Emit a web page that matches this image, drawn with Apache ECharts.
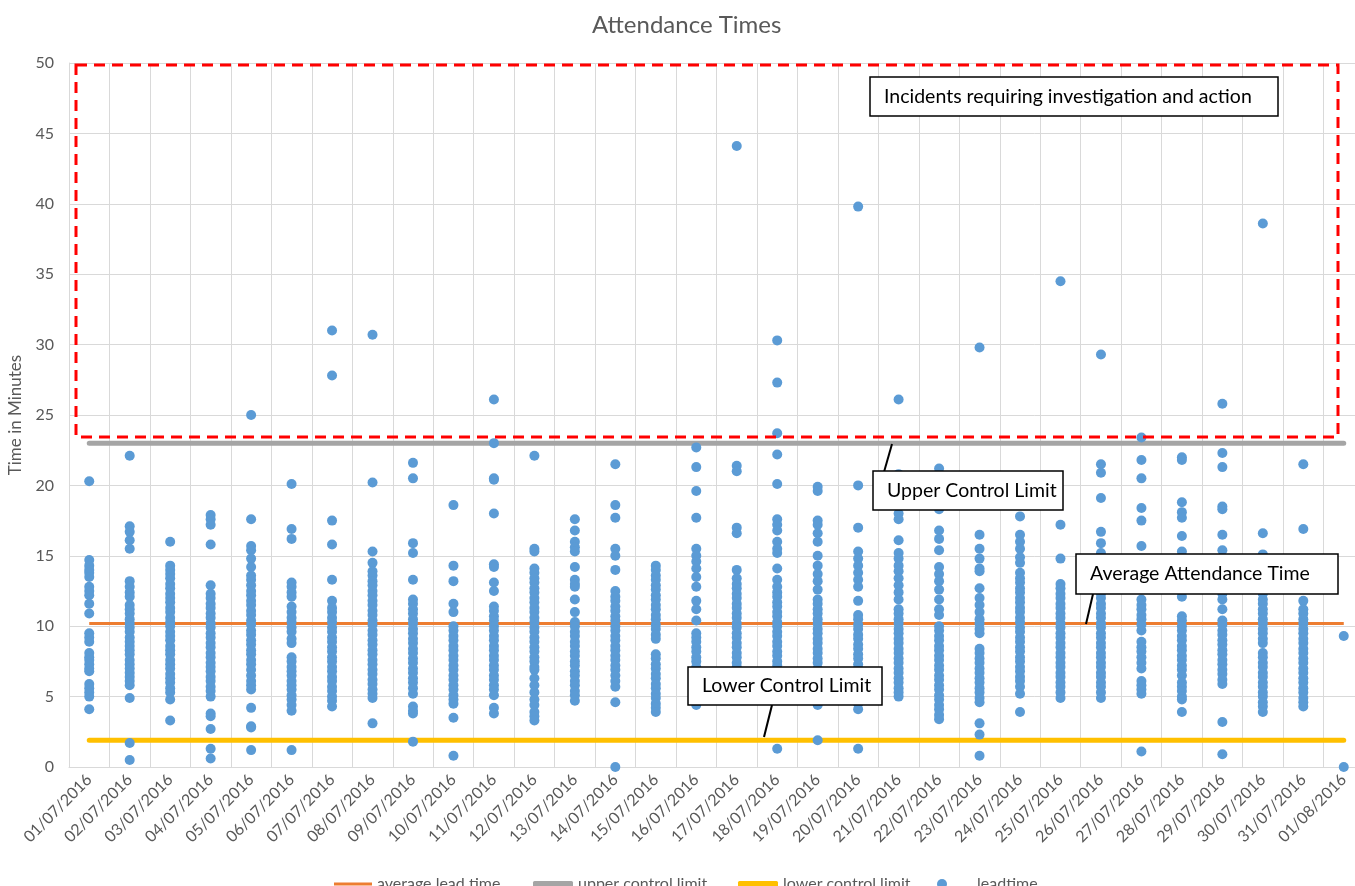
<!DOCTYPE html>
<html>
<head>
<meta charset="utf-8">
<title>Attendance Times</title>
<script src="https://cdn.jsdelivr.net/npm/echarts@6/dist/echarts.min.js"></script>
<style>
  html, body { margin: 0; padding: 0; background: #fff; }
  #chart { width: 1355px; height: 886px; }
</style>
</head>
<body>
<div id="chart"></div>
<script>
  // categories (one per day)
  const dates = [
    '01/07/2016', '02/07/2016', '03/07/2016', '04/07/2016', '05/07/2016', '06/07/2016',
    '07/07/2016', '08/07/2016', '09/07/2016', '10/07/2016', '11/07/2016', '12/07/2016',
    '13/07/2016', '14/07/2016', '15/07/2016', '16/07/2016', '17/07/2016', '18/07/2016',
    '19/07/2016', '20/07/2016', '21/07/2016', '22/07/2016', '23/07/2016', '24/07/2016',
    '25/07/2016', '26/07/2016', '27/07/2016', '28/07/2016', '29/07/2016', '30/07/2016',
    '31/07/2016', '01/08/2016'
  ]

  // lead times (minutes), one list per day, same order as dates
  const leadtimeByDay = [
    [20.3, 14.7, 14.3, 14.0, 13.8, 13.5, 12.8, 12.5, 12.2, 11.6, 10.9, 9.5, 9.2, 8.9, 8.1, 7.8, 7.6, 7.3, 7.0, 6.8, 5.9, 5.6, 5.3, 5.0, 4.1],
    [22.1, 17.1, 16.7, 16.1, 15.5, 13.2, 12.8, 12.4, 12.1, 11.5, 11.2, 10.9, 10.5, 10.2, 9.9, 9.6, 9.2, 8.9, 8.6, 8.3, 8.0, 7.6, 7.3, 7.0, 6.7, 6.4, 6.1, 5.8, 4.9, 1.7, 0.5],
    [16.0, 14.3, 14.0, 13.7, 13.4, 13.0, 12.7, 12.3, 12.0, 11.7, 11.3, 11.0, 10.6, 10.3, 10.0, 9.6, 9.3, 9.0, 8.6, 8.3, 8.0, 7.6, 7.3, 7.0, 6.6, 6.3, 6.0, 5.6, 5.3, 4.8, 3.3],
    [17.9, 17.6, 17.2, 15.8, 12.9, 12.3, 12.0, 11.6, 11.3, 10.9, 10.6, 10.2, 9.9, 9.5, 9.2, 8.8, 8.5, 8.1, 7.8, 7.4, 7.1, 6.8, 6.4, 6.1, 5.7, 5.4, 5.0, 3.8, 3.6, 2.7, 1.3, 0.6],
    [25.0, 17.6, 15.7, 15.4, 14.8, 14.2, 13.6, 13.3, 12.9, 12.5, 12.2, 11.8, 11.5, 11.1, 10.8, 10.4, 10.1, 9.7, 9.4, 9.0, 8.7, 8.3, 8.0, 7.6, 7.3, 6.9, 6.5, 6.1, 5.8, 5.5, 4.2, 2.9, 2.8, 1.2],
    [20.1, 16.9, 16.2, 13.1, 12.8, 12.4, 12.1, 11.4, 11.0, 10.6, 10.3, 9.9, 9.6, 9.1, 8.8, 7.8, 7.5, 7.1, 6.8, 6.5, 6.1, 5.8, 5.5, 5.1, 4.8, 4.4, 4.0, 1.2],
    [31.0, 27.8, 17.5, 15.8, 13.3, 11.8, 11.3, 11.0, 10.6, 10.3, 9.9, 9.6, 9.2, 8.9, 8.5, 8.2, 7.8, 7.5, 7.1, 6.8, 6.4, 6.1, 5.7, 5.4, 5.0, 4.7, 4.3],
    [30.7, 20.2, 15.3, 14.5, 13.9, 13.6, 13.2, 12.9, 12.5, 12.2, 11.8, 11.5, 11.1, 10.8, 10.4, 10.1, 9.7, 9.4, 9.0, 8.7, 8.3, 8.0, 7.6, 7.3, 6.9, 6.6, 6.2, 5.9, 5.5, 5.2, 4.9, 3.1],
    [21.6, 20.5, 15.9, 15.2, 13.3, 11.9, 11.6, 11.2, 10.9, 10.5, 10.2, 9.8, 9.5, 9.1, 8.8, 8.4, 8.1, 7.7, 7.4, 7.0, 6.7, 6.3, 6.0, 5.6, 5.2, 4.3, 4.0, 3.8, 1.8],
    [18.6, 14.3, 13.2, 11.6, 11.0, 10.0, 9.7, 9.3, 9.0, 8.6, 8.3, 7.9, 7.6, 7.2, 6.9, 6.5, 6.2, 5.8, 5.5, 5.1, 4.8, 4.5, 3.5, 0.8],
    [26.1, 23.0, 20.5, 20.4, 18.0, 14.4, 14.2, 13.1, 12.5, 11.4, 11.1, 10.7, 10.4, 10.0, 9.7, 9.3, 9.0, 8.6, 8.3, 7.9, 7.6, 7.2, 6.9, 6.5, 6.2, 5.8, 5.5, 5.1, 4.2, 3.8],
    [22.1, 15.5, 15.3, 14.1, 13.8, 13.4, 13.1, 12.7, 12.4, 12.0, 11.7, 11.3, 11.0, 10.6, 10.3, 9.9, 9.6, 9.2, 8.9, 8.5, 8.2, 7.8, 7.5, 7.1, 6.9, 6.3, 5.8, 5.3, 4.8, 4.4, 3.9, 3.6, 3.3],
    [17.6, 16.8, 16.0, 15.6, 15.3, 14.2, 13.3, 13.0, 12.8, 11.9, 11.0, 10.3, 10.0, 9.6, 9.3, 8.9, 8.6, 8.2, 7.9, 7.5, 7.2, 6.8, 6.5, 6.1, 5.8, 5.4, 5.1, 4.7],
    [21.5, 18.6, 17.7, 15.5, 15.0, 14.0, 12.5, 12.1, 11.8, 11.4, 11.1, 10.7, 10.4, 10.0, 9.7, 9.3, 9.0, 8.6, 8.3, 7.9, 7.6, 7.2, 6.9, 6.5, 6.1, 5.7, 4.6, 0.0],
    [14.3, 14.0, 13.6, 13.3, 12.9, 12.6, 12.2, 11.9, 11.5, 11.2, 10.8, 10.5, 10.1, 9.8, 9.4, 9.1, 8.0, 7.7, 7.3, 7.0, 6.6, 6.3, 5.9, 5.6, 5.2, 4.9, 4.5, 4.2, 3.9],
    [22.7, 21.3, 19.6, 17.7, 15.5, 15.0, 14.6, 14.1, 13.5, 12.8, 11.8, 11.2, 10.4, 9.5, 9.2, 8.9, 8.5, 8.2, 7.8, 7.5, 7.1, 6.8, 6.4, 6.1, 5.7, 5.4, 5.0, 4.7, 4.4],
    [44.1, 21.4, 21.0, 17.0, 16.6, 14.0, 13.4, 13.0, 12.7, 12.3, 12.0, 11.6, 11.3, 10.9, 10.6, 10.2, 9.9, 9.5, 9.2, 8.8, 8.5, 8.1, 7.8, 7.4, 7.1, 6.8, 6.4, 6.0],
    [30.3, 27.3, 23.7, 22.2, 20.1, 17.6, 17.2, 16.8, 16.0, 15.5, 15.2, 14.1, 13.3, 12.8, 12.4, 12.1, 11.7, 11.4, 11.0, 10.7, 10.3, 10.0, 9.6, 9.3, 8.9, 8.6, 8.2, 7.9, 7.5, 7.2, 6.8, 6.5, 1.3],
    [19.9, 19.6, 17.5, 17.2, 16.6, 16.0, 15.0, 14.3, 13.7, 13.2, 12.6, 11.9, 11.6, 11.2, 10.9, 10.5, 10.2, 9.8, 9.5, 9.1, 8.8, 8.4, 8.1, 7.7, 7.4, 7.0, 6.7, 6.3, 5.9, 5.5, 4.9, 4.4, 1.9],
    [39.8, 20.0, 17.0, 15.3, 14.8, 14.3, 13.8, 13.3, 12.8, 11.8, 10.8, 10.5, 10.1, 9.8, 9.4, 9.1, 8.7, 8.4, 8.0, 7.7, 7.3, 7.0, 6.6, 6.3, 5.9, 5.6, 5.2, 4.9, 4.5, 4.1, 1.3],
    [26.1, 20.8, 19.5, 18.0, 17.6, 16.1, 15.2, 14.8, 14.3, 13.9, 13.4, 12.9, 12.4, 11.9, 11.2, 10.9, 10.5, 10.2, 9.8, 9.5, 9.1, 8.8, 8.4, 8.1, 7.7, 7.4, 7.0, 6.7, 6.3, 6.0, 5.6, 5.3, 5.0],
    [21.2, 18.3, 16.8, 16.2, 15.4, 14.2, 13.7, 13.2, 12.6, 11.9, 11.2, 10.8, 10.0, 9.7, 9.3, 9.0, 8.6, 8.3, 7.9, 7.6, 7.2, 6.9, 6.5, 6.2, 5.8, 5.5, 5.1, 4.8, 4.4, 4.1, 3.7, 3.4],
    [29.8, 16.5, 15.5, 14.8, 14.1, 13.9, 12.7, 12.0, 11.5, 11.0, 10.5, 10.2, 9.8, 9.5, 8.4, 8.1, 7.7, 7.4, 7.0, 6.7, 6.3, 6.0, 5.6, 5.3, 4.9, 4.6, 3.1, 2.3, 0.8],
    [17.8, 16.5, 16.0, 15.5, 14.9, 14.5, 13.8, 13.4, 13.1, 12.7, 12.4, 12.0, 11.7, 11.3, 11.0, 10.6, 10.3, 9.9, 9.6, 9.2, 8.9, 8.5, 8.2, 7.8, 7.5, 7.1, 6.8, 6.4, 6.1, 5.7, 5.2, 3.9],
    [34.5, 17.2, 14.8, 13.0, 12.7, 12.3, 12.0, 11.6, 11.3, 10.9, 10.6, 10.2, 9.9, 9.5, 9.2, 8.8, 8.5, 8.1, 7.8, 7.4, 7.1, 6.7, 6.4, 6.0, 5.7, 5.3, 4.9],
    [29.3, 21.5, 20.9, 19.1, 16.7, 15.9, 15.2, 14.6, 13.9, 13.2, 12.3, 12.0, 11.6, 11.3, 10.9, 10.6, 10.2, 9.9, 9.5, 9.2, 8.8, 8.5, 8.1, 7.8, 7.4, 7.1, 6.7, 6.4, 6.0, 5.7, 5.3, 4.9],
    [23.4, 21.8, 20.5, 18.4, 17.5, 15.7, 14.5, 13.1, 11.9, 11.5, 11.2, 10.8, 10.5, 10.1, 9.7, 8.9, 8.5, 8.2, 7.8, 7.4, 7.0, 6.1, 5.8, 5.5, 5.2, 1.1],
    [22.0, 21.8, 18.8, 18.1, 17.7, 16.4, 15.3, 14.2, 12.1, 10.7, 10.4, 10.0, 9.7, 9.3, 9.0, 8.6, 8.3, 7.9, 7.6, 7.2, 6.9, 6.5, 6.0, 5.7, 5.4, 5.0, 4.8, 3.9],
    [25.8, 22.3, 21.3, 18.5, 18.3, 16.5, 15.4, 14.3, 13.5, 12.3, 11.9, 11.2, 10.4, 10.1, 9.7, 9.4, 9.0, 8.7, 8.3, 8.0, 7.6, 7.3, 6.9, 6.6, 6.2, 5.9, 3.2, 0.9],
    [38.6, 16.6, 15.1, 14.0, 13.0, 12.3, 11.9, 11.6, 11.2, 10.9, 10.5, 10.2, 9.8, 9.5, 9.1, 8.8, 8.1, 7.8, 7.4, 7.1, 6.7, 6.4, 6.0, 5.7, 5.3, 5.0, 4.6, 4.3, 3.9],
    [21.5, 16.9, 11.8, 11.2, 10.9, 10.5, 10.2, 9.8, 9.5, 9.1, 8.8, 8.4, 8.1, 7.7, 7.4, 7.0, 6.7, 6.3, 6.0, 5.6, 5.3, 4.9, 4.6, 4.3],
    [9.3, 0.0]
  ]

  const averageLeadTime = 10.2
  const upperControlLimit = 23.0
  const lowerControlLimit = 1.9

  const yMin = 0
  const yMax = 50
  const yStep = 5

  const TEXT = '#595959'
  const GRID = '#d9d9d9'
  const FONT = 'Lato, "Open Sans", sans-serif'

  const scatterData = leadtimeByDay.flatMap((values, i) => values.map(v => [i, v]))

  function flatLine (value) {
    return dates.map(() => value)
  }

  function noteBox (x, y, w, h, text) {
    return [
      {
        type: 'rect',
        z: 100,
        shape: { x, y, width: w, height: h },
        style: { fill: '#fff', stroke: '#000', lineWidth: 1.5 }
      },
      {
        type: 'text',
        z: 101,
        style: { text, x: x + 14, y: y + h / 2, fill: '#000', font: '19.5px ' + FONT, verticalAlign: 'middle' }
      }
    ]
  }

  function leader (x1, y1, x2, y2) {
    return {
      type: 'line',
      z: 100,
      shape: { x1, y1, x2, y2 },
      style: { stroke: '#000', lineWidth: 2 }
    }
  }

  const legendText = { color: TEXT, fontSize: 16, fontFamily: FONT }

  const chart = echarts.init(document.getElementById('chart'))
  chart.setOption({
    animation: false,
    backgroundColor: '#fff',
    title: {
      text: 'Attendance Times',
      left: 587,
      top: 8,
      textStyle: { color: TEXT, fontSize: 24, fontWeight: 'normal', fontFamily: FONT }
    },
    grid: { left: 69, top: 63, width: 1295, height: 704, outerBoundsMode: 'none', containLabel: false },
    xAxis: {
      type: 'category',
      data: dates,
      boundaryGap: true,
      axisLine: { show: true, lineStyle: { color: GRID, width: 1 } },
      axisTick: { show: false },
      splitLine: { show: true, interval: 0, lineStyle: { color: GRID, width: 1 } },
      axisLabel: {
        interval: 0,
        rotate: 45,
        margin: 10,
        color: TEXT,
        fontSize: 16,
        fontFamily: FONT
      }
    },
    yAxis: {
      type: 'value',
      min: yMin,
      max: yMax,
      interval: yStep,
      name: 'Time in Minutes',
      nameLocation: 'middle',
      nameRotate: 90,
      nameGap: 45,
      nameTextStyle: { color: TEXT, fontSize: 17, fontFamily: FONT },
      axisLine: { show: true, lineStyle: { color: GRID } },
      axisTick: { show: false },
      splitLine: { show: true, lineStyle: { color: GRID, width: 1 } },
      axisLabel: { color: TEXT, fontSize: 16, fontFamily: FONT, margin: 15 }
    },
    legend: [
      {
        left: 334, top: 876, padding: 0, itemWidth: 38, itemHeight: 3, itemGap: 5,
        data: [{ name: 'average lead time', icon: 'rect' }],
        itemStyle: { borderWidth: 0 }, textStyle: legendText
      },
      {
        left: 533, top: 876, padding: 0, itemWidth: 40, itemHeight: 6,
        data: [{ name: 'upper control limit', icon: 'roundRect' }],
        itemStyle: { borderWidth: 0 }, textStyle: legendText
      },
      {
        left: 738, top: 876, padding: 0, itemWidth: 40, itemHeight: 6,
        data: [{ name: 'lower control limit', icon: 'roundRect' }],
        itemStyle: { borderWidth: 0 }, textStyle: legendText
      },
      {
        left: 937, top: 876, padding: 0, itemWidth: 10, itemHeight: 10,
        data: [{ name: 'leadtime', icon: 'circle' }],
        itemStyle: { borderWidth: 0 },
        textStyle: Object.assign({ padding: [0, 0, 0, 25] }, legendText)
      }
    ],
    series: [
      {
        name: 'average lead time',
        type: 'line',
        data: flatLine(averageLeadTime),
        symbol: 'none',
        color: '#ed7d31',
        lineStyle: { color: '#ed7d31', width: 3 },
        z: 3
      },
      {
        name: 'upper control limit',
        type: 'line',
        data: flatLine(upperControlLimit),
        symbol: 'none',
        color: '#a5a5a5',
        lineStyle: { color: '#a5a5a5', width: 5, cap: 'round' },
        z: 3
      },
      {
        name: 'lower control limit',
        type: 'line',
        data: flatLine(lowerControlLimit),
        symbol: 'none',
        color: '#ffc000',
        lineStyle: { color: '#ffc000', width: 5, cap: 'round' },
        z: 3
      },
      {
        name: 'leadtime',
        type: 'scatter',
        data: scatterData,
        symbolSize: 10,
        color: '#5b9bd5',
        itemStyle: { color: '#5b9bd5', opacity: 1 },
        z: 4
      }
    ],
    graphic: {
      elements: [
        {
          type: 'rect',
          z: 99,
          shape: { x: 76, y: 65, width: 1262, height: 372 },
          style: { fill: 'none', stroke: '#ff0000', lineWidth: 3, lineDash: [11, 7] }
        },
        ...noteBox(870, 77, 408, 39, 'Incidents requiring investigation and action'),
        leader(884, 472, 892, 444),
        ...noteBox(873, 471, 190, 39, 'Upper Control Limit'),
        leader(1093, 594, 1086, 624),
        ...noteBox(1076, 554, 262, 40, 'Average Attendance Time'),
        leader(772, 705, 764, 737),
        ...noteBox(688, 667, 194, 38, 'Lower Control Limit')
      ]
    }
  })
</script>
</body>
</html>
